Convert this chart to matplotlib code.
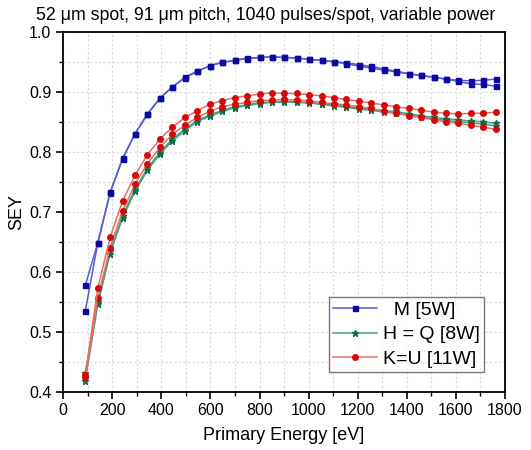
import matplotlib
matplotlib.use("Agg")
import matplotlib.pyplot as plt
from matplotlib.ticker import MultipleLocator

plt.rcParams['font.family'] = ['Liberation Sans', 'DejaVu Sans']

energy = [90, 141, 191, 242, 293, 343, 394, 445, 496, 546, 597, 648, 698, 749,
          800, 850, 901, 952, 1002, 1053, 1104, 1154, 1205, 1256, 1306, 1357,
          1408, 1458, 1509, 1560, 1610, 1661, 1712, 1762]

m_a = [0.577, 0.648, 0.732, 0.789, 0.830, 0.863, 0.889, 0.908, 0.924, 0.934,
       0.943, 0.949, 0.952, 0.956, 0.957, 0.958, 0.957, 0.956, 0.954, 0.952,
       0.950, 0.948, 0.945, 0.942, 0.938, 0.934, 0.930, 0.927, 0.924, 0.921,
       0.919, 0.918, 0.919, 0.921]
m_b = [0.534, 0.648, 0.731, 0.788, 0.830, 0.862, 0.889, 0.908, 0.923, 0.934,
       0.943, 0.949, 0.952, 0.955, 0.957, 0.958, 0.957, 0.956, 0.954, 0.952,
       0.950, 0.946, 0.943, 0.939, 0.936, 0.933, 0.930, 0.927, 0.924, 0.921,
       0.917, 0.913, 0.912, 0.909]

hq_a = [0.431, 0.549, 0.634, 0.693, 0.738, 0.772, 0.799, 0.821, 0.838, 0.852,
        0.861, 0.869, 0.875, 0.878, 0.882, 0.883, 0.884, 0.883, 0.882, 0.880,
        0.878, 0.875, 0.873, 0.871, 0.868, 0.867, 0.863, 0.860, 0.857, 0.855,
        0.853, 0.851, 0.850, 0.847]
hq_b = [0.418, 0.546, 0.630, 0.690, 0.734, 0.769, 0.796, 0.818, 0.835, 0.850,
        0.859, 0.867, 0.873, 0.877, 0.880, 0.882, 0.883, 0.882, 0.881, 0.879,
        0.876, 0.874, 0.871, 0.869, 0.866, 0.864, 0.861, 0.858, 0.855, 0.852,
        0.850, 0.848, 0.846, 0.843]

ku_a = [0.427, 0.572, 0.657, 0.718, 0.761, 0.795, 0.821, 0.841, 0.857, 0.868,
        0.879, 0.885, 0.890, 0.893, 0.896, 0.898, 0.897, 0.897, 0.895, 0.893,
        0.890, 0.887, 0.884, 0.881, 0.878, 0.875, 0.872, 0.869, 0.866, 0.864,
        0.863, 0.864, 0.864, 0.866]
ku_b = [0.425, 0.556, 0.640, 0.701, 0.746, 0.780, 0.807, 0.829, 0.844, 0.857,
        0.867, 0.875, 0.879, 0.882, 0.885, 0.886, 0.887, 0.886, 0.885, 0.882,
        0.880, 0.878, 0.875, 0.872, 0.868, 0.864, 0.860, 0.857, 0.853, 0.850,
        0.847, 0.844, 0.841, 0.837]

labels = ["  M [5W]", "H = Q [8W]", "K=U [11W]"]
title = "52 \u03bcm spot, 91 \u03bcm pitch, 1040 pulses/spot, variable power"

fig = plt.figure(figsize=(5.31, 4.5), dpi=100)
ax = fig.add_axes([0.119, 0.1296, 0.832, 0.8])

blue_l, blue_m = "#5a5ad6", "#0a0aa0"
green_l, green_m = "#46a082", "#0f6e48"
red_l, red_m = "#ea6a6a", "#d40a0a"

ax.plot(energy, m_b, color=blue_l, lw=1.1, marker='s', ms=3.6,
        mfc=blue_m, mec=blue_m, zorder=3)
ax.plot(energy, m_a, color=blue_l, lw=1.1, marker='s', ms=3.6,
        mfc=blue_m, mec=blue_m, zorder=3, label=labels[0])
ax.plot(energy, hq_a, color=green_l, lw=1.1, marker='*', ms=4.5,
        mfc=green_m, mec=green_m, zorder=3)
ax.plot(energy, hq_b, color=green_l, lw=1.1, marker='*', ms=4.5,
        mfc=green_m, mec=green_m, zorder=3, label=labels[1])
ax.plot(energy, ku_b, color=red_l, lw=1.1, marker='o', ms=4.0,
        mfc=red_m, mec=red_m, zorder=4)
ax.plot(energy, ku_a, color=red_l, lw=1.1, marker='o', ms=4.0,
        mfc=red_m, mec=red_m, zorder=4, label=labels[2])

ax.set_xlim(0, 1800)
ax.set_ylim(0.4, 1.0)
ax.xaxis.set_major_locator(MultipleLocator(200))
ax.xaxis.set_minor_locator(MultipleLocator(100))
ax.yaxis.set_major_locator(MultipleLocator(0.1))
ax.yaxis.set_minor_locator(MultipleLocator(0.05))
ax.yaxis.set_major_formatter(plt.FuncFormatter(lambda v, p: f"{v:.1f}"))

ax.grid(which='both', color='#d8d8d8', linestyle=(0, (2, 2)), lw=0.8)
ax.set_axisbelow(True)
ax.tick_params(which='major', direction='out', length=5, width=1.2, labelsize=11.5)
ax.tick_params(which='minor', direction='out', length=3, width=1.0)
for s in ax.spines.values():
    s.set_linewidth(1.3)

ax.set_xlabel("Primary Energy [eV]", fontsize=13, labelpad=6)
ax.set_ylabel("SEY", fontsize=13, labelpad=3)
fig.text(0.5, 1 - 15 / 450, title, fontsize=12.8, ha='center', va='center')

leg = ax.legend(loc='lower right', bbox_to_anchor=(0.9525, 0.0556), fontsize=14,
                frameon=True, fancybox=False, edgecolor='#555555',
                handlelength=2.3, borderpad=0.2, labelspacing=0.35,
                handletextpad=0.3, markerscale=1.0, borderaxespad=0.0)
leg.get_frame().set_linewidth(1.0)

fig.savefig("out.png", dpi=100)
